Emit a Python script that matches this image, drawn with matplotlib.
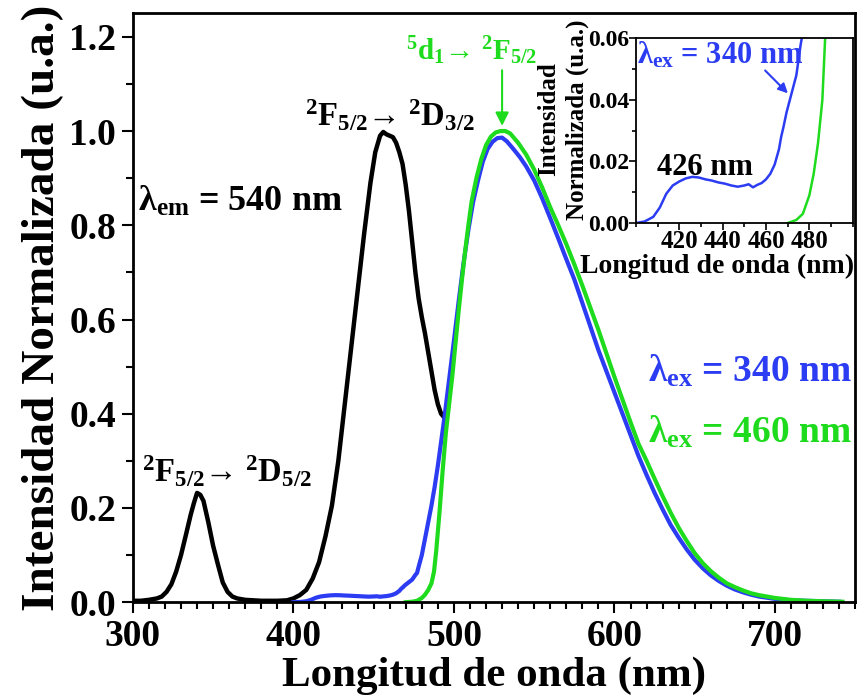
import matplotlib
matplotlib.use('Agg')
import matplotlib.pyplot as plt
from matplotlib.ticker import MultipleLocator, FormatStrFormatter

plt.rcParams['font.family'] = ['Liberation Serif', 'DejaVu Serif']
plt.rcParams['font.weight'] = 'bold'
plt.rcParams['mathtext.fontset'] = 'custom'
plt.rcParams['mathtext.rm'] = 'Liberation Serif:bold'
plt.rcParams['mathtext.it'] = 'Liberation Serif:bold'
plt.rcParams['mathtext.bf'] = 'Liberation Serif:bold'

AZUL = '#2b3cf2'
VERDE = '#1edb1e'

# excitacion, lambda_em = 540 nm
x_em = [300, 305, 310, 315, 318, 321, 324, 327, 330, 333, 336, 338, 340, 342, 344,
        347, 350, 353, 356, 359, 362, 365, 370, 380, 390, 396, 400, 404, 408, 412,
        416, 420, 424, 428, 432, 436, 440, 444, 448, 451, 454, 456, 458, 460, 462,
        464, 466, 468, 470, 472, 474, 476, 478, 480, 482, 484, 486, 488, 490, 492, 494]
y_em = [0.003, 0.003, 0.005, 0.008, 0.012, 0.022, 0.038, 0.065, 0.100, 0.142, 0.185,
        0.210, 0.232, 0.228, 0.215, 0.170, 0.120, 0.080, 0.042, 0.022, 0.012, 0.008,
        0.005, 0.003, 0.003, 0.004, 0.008, 0.015, 0.026, 0.050, 0.085, 0.140, 0.205,
        0.300, 0.420, 0.540, 0.660, 0.780, 0.890, 0.955, 0.990, 0.998, 0.993, 0.990,
        0.987, 0.975, 0.955, 0.930, 0.885, 0.830, 0.765, 0.700, 0.645, 0.605, 0.570,
        0.530, 0.490, 0.450, 0.420, 0.400, 0.392]

# emision, lambda_ex = 340 nm
x_340 = [400, 404, 408, 411, 414, 417, 420, 423, 426, 429, 432, 435, 438, 441, 444,
         447, 450, 452, 454, 456, 458, 460, 462, 464, 466, 467, 468, 469.5, 471, 472.5,
         474, 475, 476, 477, 478, 480, 482, 484, 486, 488, 490, 492, 494, 496, 498,
         500, 503, 506, 509, 512, 515, 518, 521, 524, 527, 530, 533, 537, 541, 545,
         550, 555, 560, 565, 570, 575, 580, 585, 590, 595, 600, 605, 610, 615, 620,
         625, 630, 635, 640, 645, 650, 655, 660, 665, 670, 675, 680, 685, 690, 700,
         710, 720, 730, 740]
y_340 = [0.0, 0.0005, 0.002, 0.005, 0.0095, 0.0122, 0.0135, 0.0145, 0.015, 0.0148,
         0.0142, 0.0138, 0.0132, 0.0128, 0.0122, 0.0118, 0.0122, 0.0126, 0.0116, 0.0124,
         0.013, 0.0142, 0.016, 0.019, 0.024, 0.028, 0.031, 0.036, 0.040, 0.044,
         0.048, 0.053, 0.058, 0.062, 0.075, 0.100, 0.135, 0.170, 0.205, 0.245,
         0.290, 0.340, 0.390, 0.445, 0.500, 0.555, 0.640, 0.720, 0.790, 0.850,
         0.895, 0.935, 0.962, 0.977, 0.985, 0.986, 0.978, 0.962, 0.945, 0.925,
         0.895, 0.857, 0.815, 0.772, 0.728, 0.685, 0.635, 0.585, 0.535, 0.490,
         0.445, 0.400, 0.355, 0.310, 0.270, 0.232, 0.197, 0.164, 0.137, 0.112,
         0.090, 0.072, 0.057, 0.045, 0.035, 0.027, 0.021, 0.016, 0.012, 0.007,
         0.004, 0.003, 0.002, 0.001]

# emision, lambda_ex = 460 nm
x_460 = [470, 474, 477, 480, 482, 484, 486, 487.6, 489, 491, 493, 495, 497, 499, 501,
         503, 505, 507, 509, 511, 514, 517, 520, 523, 526, 529, 532, 535, 540, 545,
         550, 555, 560, 565, 570, 575, 580, 585, 590, 595, 600, 605, 610, 615, 620,
         625, 630, 635, 640, 645, 650, 655, 660, 665, 670, 675, 680, 685, 690, 700,
         710, 720, 730, 742]
y_460 = [0.0, 0.001, 0.003, 0.009, 0.016, 0.026, 0.040, 0.065, 0.110, 0.190, 0.280,
         0.360, 0.420, 0.480, 0.550, 0.620, 0.685, 0.745, 0.800, 0.850, 0.900, 0.940,
         0.970, 0.988, 0.997, 1.000, 1.000, 0.995, 0.975, 0.950, 0.918, 0.880, 0.838,
         0.800, 0.760, 0.717, 0.672, 0.625, 0.578, 0.528, 0.478, 0.430, 0.382, 0.336,
         0.300, 0.262, 0.225, 0.190, 0.158, 0.130, 0.104, 0.083, 0.066, 0.052, 0.040,
         0.032, 0.025, 0.019, 0.015, 0.009, 0.005, 0.003, 0.002, 0.001]

fig = plt.figure(figsize=(8.57, 6.97), dpi=100)
ax = fig.add_axes([0.155, 0.136, 0.843, 0.845])

ax.plot(x_em, y_em, color='black', lw=3.2)
ax.plot(x_340, y_340, color=AZUL, lw=3)
ax.plot(x_460, y_460, color=VERDE, lw=3)

ax.set_xlim(300, 750)
ax.set_ylim(0, 1.25)
ax.xaxis.set_major_locator(MultipleLocator(100))
ax.xaxis.set_minor_locator(MultipleLocator(10))
ax.yaxis.set_major_locator(MultipleLocator(0.2))
ax.yaxis.set_minor_locator(MultipleLocator(0.1))
ax.yaxis.set_major_formatter(FormatStrFormatter('%.1f'))
ax.tick_params(which='major', direction='out', length=8, width=1.5, labelsize=27, pad=4)
ax.tick_params(which='minor', direction='out', length=5, width=1.5)
for s in ax.spines.values():
    s.set_linewidth(2)

ax.set_xlabel('Longitud de onda (nm)', fontsize=31, fontweight='bold', labelpad=2)
ax.set_ylabel('Intensidad Normalizada (u.a.)', fontsize=34, fontweight='bold', labelpad=4)

ax.text(303, 0.83, r'λ$_{em}$ = 540 nm', fontsize=26, fontweight='bold')
ax.text(407, 1.01, r'$^{2}$F$_{5/2}$→ $^{2}$D$_{3/2}$', fontsize=23.5, fontweight='bold')
ax.text(306, 0.255, r'$^{2}$F$_{5/2}$→ $^{2}$D$_{5/2}$', fontsize=23.5, fontweight='bold')
ax.text(470, 1.15, r'$^{5}$d$_{1}$→ $^{2}$F$_{5/2}$', fontsize=21, fontweight='bold',
        color=VERDE)
ax.annotate('', xy=(530, 1.005), xytext=(530, 1.135),
            arrowprops=dict(arrowstyle='-|>', color=VERDE, lw=1.5, mutation_scale=20))
ax.text(748, 0.468, r'λ$_{ex}$ = 340 nm', fontsize=27, fontweight='bold',
        color=AZUL, ha='right')
ax.text(748, 0.338, r'λ$_{ex}$ = 460 nm', fontsize=27, fontweight='bold',
        color=VERDE, ha='right')

# inset
axi = fig.add_axes([0.742, 0.680, 0.253, 0.265])
axi.plot(x_340, y_340, color=AZUL, lw=1.8)
axi.plot(x_460, y_460, color=VERDE, lw=1.8)
axi.set_xlim(400, 500)
axi.set_ylim(0, 0.06)
axi.set_xticks([420, 440, 460, 480])
axi.xaxis.set_minor_locator(MultipleLocator(10))
axi.yaxis.set_major_locator(MultipleLocator(0.02))
axi.yaxis.set_minor_locator(MultipleLocator(0.01))
axi.yaxis.set_major_formatter(FormatStrFormatter('%.2f'))
axi.tick_params(which='major', direction='out', length=5, width=1.2, labelsize=18, pad=0)
axi.tick_params(axis='y', which='major', labelsize=17, pad=0)
axi.tick_params(which='minor', direction='out', length=3, width=1.2)
for s in axi.spines.values():
    s.set_linewidth(1.3)
axi.set_xlabel('Longitud de onda (nm)', fontsize=20, fontweight='bold')
axi.xaxis.set_label_coords(0.375, -0.165)
axi.set_ylabel('Intensidad\nNormalizada (u.a.)', fontsize=18, fontweight='bold',
               linespacing=1.3)
axi.yaxis.set_label_coords(-0.215, 0.56)
axi.text(400.5, 0.0519, r'λ$_{ex}$ = 340 nm', fontsize=22, fontweight='bold', color=AZUL)
axi.text(409.7, 0.0156, '426 nm', fontsize=22, fontweight='bold')
axi.annotate('', xy=(471, 0.0415), xytext=(458.7, 0.0502),
             arrowprops=dict(arrowstyle='-|>', color=AZUL, lw=1.5, mutation_scale=14))

fig.savefig('out.png', dpi=100)
plt.close(fig)
